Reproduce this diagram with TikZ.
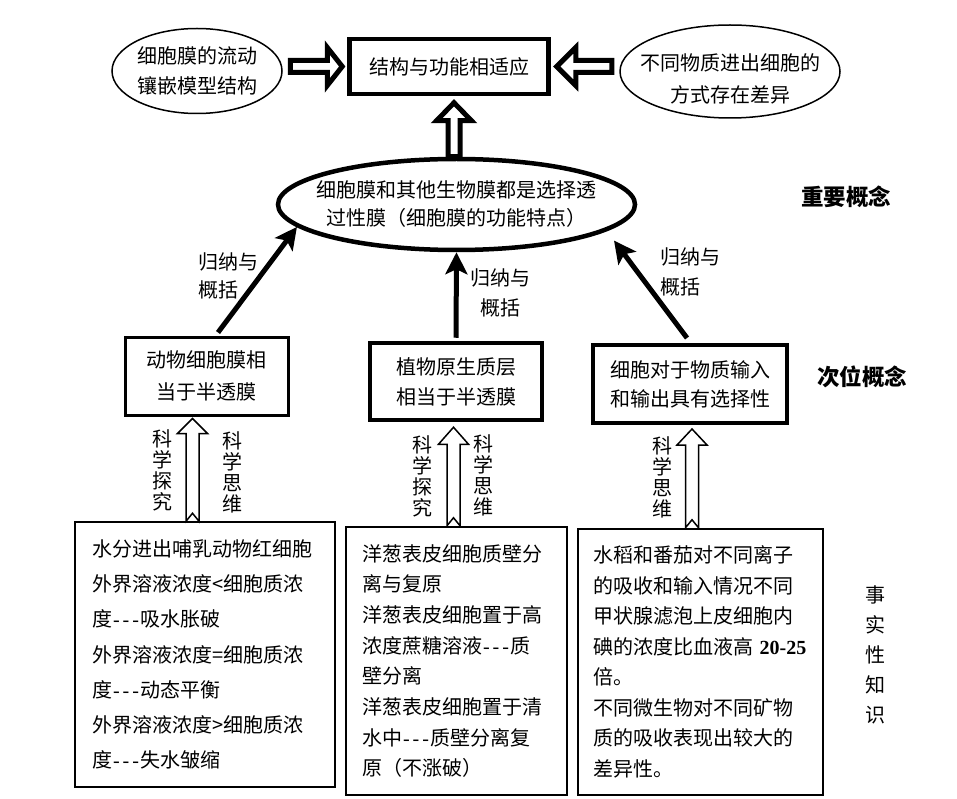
\documentclass[tikz,border=0pt]{standalone}
\usepackage{fontspec}
\setmainfont{Noto Sans CJK SC}
\newfontfamily\lserif{Liberation Serif}
\newcommand{\tdash}{{\lserif\kern1pt-\kern3pt-\kern3pt-\kern2pt}}
\usetikzlibrary{shapes.geometric,arrows.meta,calc}
\begin{document}
\begin{tikzpicture}[x=1pt,y=-1pt,
  fz/.style={font=\fontsize{20}{#1}\selectfont},
  boxa/.style={draw,inner sep=0pt,align=center},
  ell/.style={draw,ellipse,inner ysep=0pt,inner xsep=-15pt,align=center},
  fatarrow/.style={draw,fill=white,line width=5pt,line join=miter},
  thinarrow/.style={draw,fill=white,line width=1.5pt,line join=miter},
  blackarrow/.style={line width=5pt,-{Stealth[length=22pt,width=22pt,inset=5pt]}},
  vlabel/.style={inner sep=0pt,align=center,font=\fontsize{20}{21}\selectfont},
  sidelabel/.style={inner sep=0pt,font=\fontsize{22.5}{26}\selectfont\bfseries},
  factbox/.style={draw,inner sep=0pt,align=left}
]
\useasboundingbox (0,0) rectangle (957,799);

% top level
\node[boxa,line width=4.5pt,minimum width=199pt,minimum height=55pt,fz=24] (tb) at (449,66.5) {结构与功能相适应};
\node[ell,line width=1.5pt,minimum width=170pt,minimum height=85pt,fz=30] (le) at (197,71) {细胞膜的流动\\镶嵌模型结构};
\node[ell,line width=1.5pt,minimum width=220pt,minimum height=93pt] (re) at (730,71.5) {};
\node[inner sep=0pt,align=center,fz=32] (ret) at ($(re.center)+(0,7)$) {不同物质进出细胞的\\方式存在差异};

% middle ellipse
\node[ell,line width=4.5pt,minimum width=357pt,minimum height=91pt,fz=28] (me) at (456.5,204.5) {细胞膜和其他生物膜都是选择透\\过性膜（细胞膜的功能特点）};

% fat hollow arrows
\draw[fatarrow] let \p1=(le.east), \p2=(tb.west) in
  (\x1+7.5pt,\y2+6pt) -- (\x2-20pt,\y2+6pt) -- (\x2-20pt,\y2+19pt) -- (\x2-5pt,\y2)
  -- (\x2-20pt,\y2-19pt) -- (\x2-20pt,\y2-6pt) -- (\x1+7.5pt,\y2-6pt) -- cycle;
\draw[fatarrow] let \p1=(re.west), \p2=(tb.east) in
  (\x1-7.5pt,\y2+6pt) -- (\x2+25pt,\y2+6pt) -- (\x2+25pt,\y2+19pt) -- (\x2+6pt,\y2)
  -- (\x2+25pt,\y2-19pt) -- (\x2+25pt,\y2-6pt) -- (\x1-7.5pt,\y2-6pt) -- cycle;
\draw[fatarrow] let \p1=(me.north), \p2=(tb.south) in
  (\x1-8.5pt,\y1) -- (\x1-8.5pt,\y2-24.5pt) -- (\x1-20pt,\y2-24.5pt) -- (\x1-2.5pt,\y2-6.5pt)
  -- (\x1+15pt,\y2-24.5pt) -- (\x1+3.5pt,\y2-24.5pt) -- (\x1+3.5pt,\y1) -- cycle;

% second level boxes
\node[boxa,line width=3pt,minimum width=163pt,minimum height=78pt,fz=32] (m1) at (206.5,376) {动物细胞膜相\\当于半透膜};
\node[boxa,line width=4.5pt,minimum width=172pt,minimum height=77pt,fz=30] (m2) at (456,381.5) {植物原生质层\\相当于半透膜};
\node[boxa,line width=4pt,minimum width=194pt,minimum height=78pt,fz=29] (m3) at (690,384) {细胞对于物质输入\\和输出具有选择性};

% black arrows
\draw[blackarrow] ($(m1.north)+(11.5,-3)$) -- (me.188.7);
\draw[blackarrow] ($(m2.north)+(0,-3)$) -- (me.south);
\draw[blackarrow,shorten >=12pt] ($(m3.north)+(-3,-5)$) -- (me.350.4);

\node[inner sep=0pt,anchor=west,align=left,fz=28] (g1) at (198,276) {归纳与\\概括};
\node[inner sep=0pt,align=center,fz=30] (g2) at (500,293) {归纳与\\概括};
\node[inner sep=0pt,anchor=west,align=left,fz=30] (g3) at (660,272) {归纳与\\概括};

% fact boxes
\node[factbox,line width=1.5pt,minimum width=260pt,minimum height=265pt,text width=226pt,fz=35.3] (lb) at (205,654.5) {水分进出哺乳动物红细胞\\外界溶液浓度<细胞质浓\\度\tdash 吸水胀破\\外界溶液浓度=细胞质浓\\度\tdash 动态平衡\\外界溶液浓度>细胞质浓\\度\tdash 失水皱缩};
\node[factbox,line width=2.5pt,minimum width=221pt,minimum height=268pt,text width=189pt,fz=30.7] (mb) at (456.5,661) {洋葱表皮细胞质壁分\\离与复原\\洋葱表皮细胞置于高\\浓度蔗糖溶液\tdash 质\\壁分离\\洋葱表皮细胞置于清\\水中\tdash 质壁分离复\\原（不涨破）};
\node[factbox,line width=2.5pt,minimum width=245pt,minimum height=266pt,text width=215pt,fz=30.5] (rb) at (700.5,662) {水稻和番茄对不同离子\\的吸收和输入情况不同\\甲状腺滤泡上皮细胞内\\碘的浓度比血液高 {\lserif\bfseries 20-25}\\倍。\\不同微生物对不同矿物\\质的吸收表现出较大的\\差异性。};

% thin hollow arrows
\coordinate (ax1) at (192.5,0);
\coordinate (ax2) at (453.5,0);
\coordinate (ax3) at (692,0);
\draw[thinarrow] let \p1=(ax1|-lb.north), \p2=(ax1|-m1.south) in
  (\x1-6.5pt,\y1) -- (\x1-6.5pt,\y2-17pt) -- (\x1-15pt,\y2-17pt) -- (\x1,\y2-2pt)
  -- (\x1+15pt,\y2-17pt) -- (\x1+6.5pt,\y2-17pt) -- (\x1+6.5pt,\y1) -- (\x1,\y1+8pt) -- cycle;
\draw[thinarrow] let \p1=(ax2|-mb.north), \p2=(ax2|-m2.south) in
  (\x1-6.5pt,\y1) -- (\x1-6.5pt,\y2-22pt) -- (\x1-15pt,\y2-22pt) -- (\x1,\y2-5pt)
  -- (\x1+15pt,\y2-22pt) -- (\x1+6.5pt,\y2-22pt) -- (\x1+6.5pt,\y1) -- (\x1,\y1+8pt) -- cycle;
\draw[thinarrow] let \p1=(ax3|-rb.north), \p2=(ax3|-m3.south) in
  (\x1-6.5pt,\y1) -- (\x1-6.5pt,\y2-20pt) -- (\x1-15pt,\y2-20pt) -- (\x1,\y2-4pt)
  -- (\x1+15pt,\y2-20pt) -- (\x1+6.5pt,\y2-20pt) -- (\x1+6.5pt,\y1) -- (\x1,\y1+8pt) -- cycle;

\node[vlabel] (s1a) at (162,470) {科\\学\\探\\究};
\node[vlabel] (s1b) at (232,472) {科\\学\\思\\维};
\node[vlabel] (s2a) at (422,476) {科\\学\\探\\究};
\node[vlabel] (s2b) at (483,475) {科\\学\\思\\维};
\node[vlabel] (s3b) at (662,477) {科\\学\\思\\维};

% side labels
\node[sidelabel] (k1) at (846,197) {重要概念};
\node[sidelabel] (k2) at (862,377) {次位概念};
\node[inner sep=0pt,align=center,font=\fontsize{20}{30}\selectfont] (k3) at (875,655) {事\\实\\性\\知\\识};
\end{tikzpicture}
\end{document}
